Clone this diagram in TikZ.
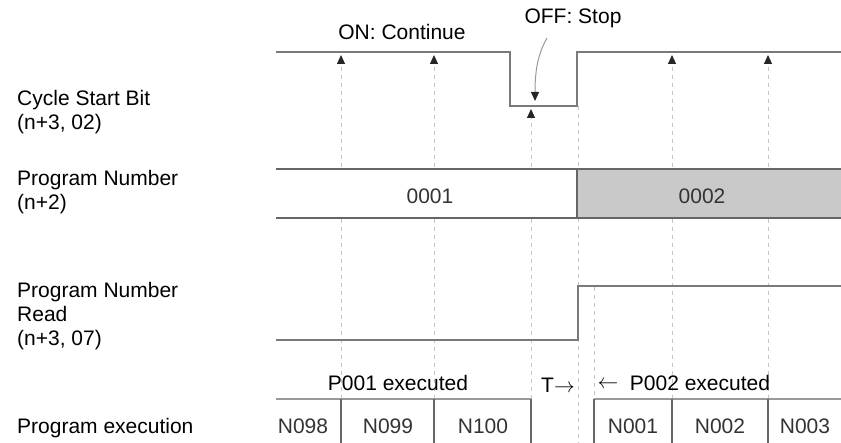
\documentclass[tikz,border=0pt]{standalone}
\usepackage{fontspec}
\setmainfont{Liberation Sans}
\usetikzlibrary{arrows.meta}
\definecolor{wavegray}{HTML}{7A7A7A}
\definecolor{guidegray}{HTML}{C4C4C4}
\definecolor{busfill}{HTML}{C9C9C9}
\begin{document}
\begin{tikzpicture}[
    x=1pt, y=-1pt,
    every node/.style={font=\fontsize{21}{24}\selectfont, inner sep=0pt},
    waveline/.style={draw=wavegray, line width=2pt},
    guideline/.style={draw=guidegray, line width=0.9pt, dash pattern=on 4pt off 4pt},
    upmark/.style={-{Triangle[width=8pt, length=9pt, color=black!85]}},
    busline/.style={draw=black!60, line width=2pt},
    exectop/.style={draw=black!40, line width=2.5pt},
    execdiv/.style={draw=black!60, line width=1.5pt},
    lbl/.style={anchor=west, align=left},
    boxtxt/.style={text=black!80},
]
\useasboundingbox (0,0) rectangle (841,443);

% ===== GUIDE LINES (dashed, behind everything) =====
\draw[guideline, upmark] (341,399) -- (341,55);
\draw[guideline, upmark] (434,399) -- (434,55);
\draw[guideline, upmark] (531,399) -- (531,109);
\draw[guideline, upmark] (672,399) -- (672,55);
\draw[guideline, upmark] (768,399) -- (768,55);
\draw[guideline] (578,106) -- (578,443);
\draw[guideline] (594,287) -- (594,399);

% ===== ROW LABELS =====
\node[lbl] (csb) at (17,112.5) {Cycle Start Bit\\(n+3, 02)};
\node[lbl] (pn) at (17,192.5) {Program Number\\(n+2)};
\node[lbl] (pnr) at (17,316.5) {Program Number\\Read\\(n+3, 07)};
\node[lbl] (pex) at (17,428) {Program execution};

% ===== CYCLE START BIT =====
\draw[waveline] (276,52) -- (510,52) -- (510,106) -- (577,106) -- (577,52) -- (841,52);
\node (on) at (402,32) {ON: Continue};
\node (off) at (573,18) {OFF: Stop};
\draw[draw=black!40, line width=1pt, -{Triangle[width=8pt, length=9pt, color=black!85]}]
  (547,38) .. controls (538,54) and (535,70) .. (535,101);

% ===== PROGRAM NUMBER =====
\fill[white] (276,169) rectangle (577,218);
\fill[busfill] (577,169) rectangle (841,218);
\draw[busline] (276,169) -- (841,169);
\draw[busline] (276,218) -- (841,218);
\draw[busline] (577,169) -- (577,218);
\node[boxtxt] (p1) at (430,196) {0001};
\node[boxtxt] (p2) at (702,196) {0002};

% ===== PROGRAM NUMBER READ =====
\draw[waveline] (276,340) -- (578,340) -- (578,286) -- (841,286);

% ===== PROGRAM EXECUTION =====
\draw[exectop] (276,399) -- (531,399);
\draw[execdiv] (531,399) -- (531,443);
\draw[execdiv] (341,399) -- (341,443);
\draw[execdiv] (434,399) -- (434,443);
\draw[exectop] (594,399) -- (841,399);
\draw[execdiv] (594,399) -- (594,443);
\draw[execdiv] (672,399) -- (672,443);
\draw[execdiv] (768,399) -- (768,443);

\node[boxtxt] (n98) at (303,426) {N098};
\node[boxtxt] (n99) at (388,426) {N099};
\node[boxtxt] (n100) at (483,426) {N100};
\node[boxtxt] (n1) at (633,426) {N001};
\node[boxtxt] (n2) at (720,426) {N002};
\node[boxtxt] (n3) at (805,426) {N003};

\node (p1x) at (398,383) {P001 executed};
\node (tl) at (558,385) {T$\rightarrow$};
\node (tr) at (608,385) {$\leftarrow$};
\node (p2x) at (700,383) {P002 executed};

\end{tikzpicture}
\end{document}
